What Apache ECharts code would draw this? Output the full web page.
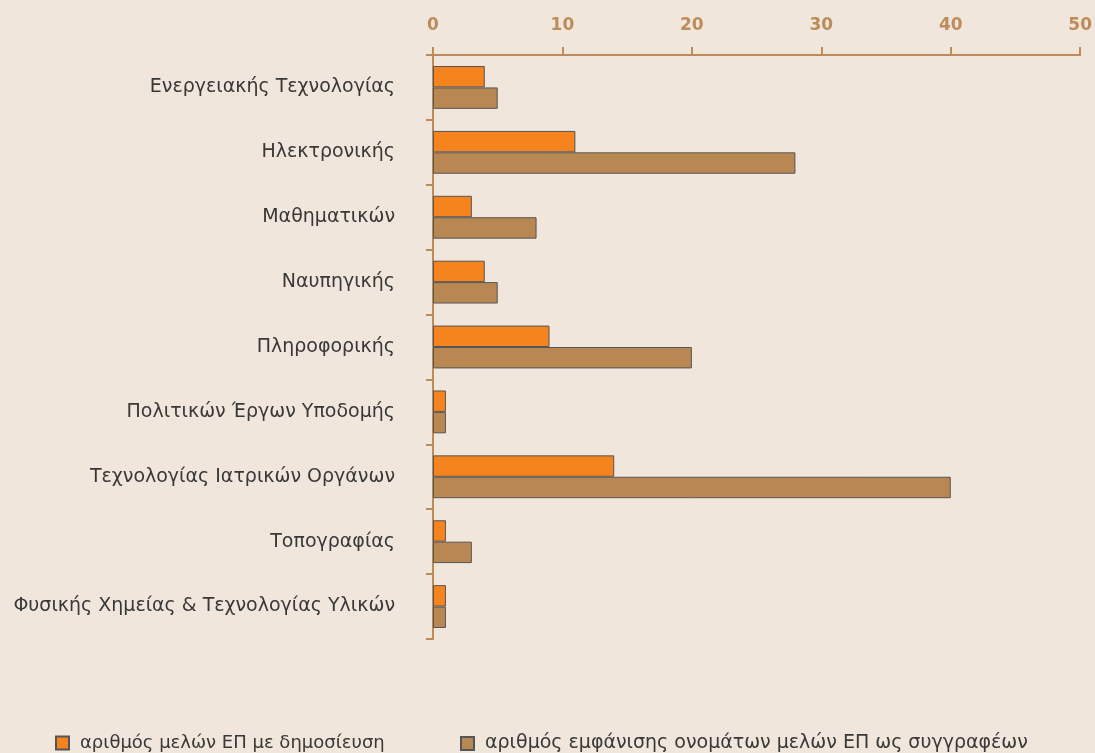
<!DOCTYPE html>
<html>
<head>
<meta charset="utf-8">
<script src="https://cdn.jsdelivr.net/npm/echarts@6/dist/echarts.min.js"></script>
<style>
  html, body { margin: 0; padding: 0; background: #F0E6DB; }
  #chart { width: 1095px; height: 753px; }
</style>
</head>
<body>
<div id="chart"></div>
<script>
(function(){

    let categories = [
        'Ενεργειακής Τεχνολογίας',
        'Ηλεκτρονικής',
        'Μαθηματικών',
        'Ναυπηγικής',
        'Πληροφορικής',
        'Πολιτικών Έργων Υποδομής',
        'Τεχνολογίας Ιατρικών Οργάνων',
        'Τοπογραφίας',
        'Φυσικής Χημείας & Τεχνολογίας Υλικών'
    ];
    let seriesNames = [
        'αριθμός μελών ΕΠ με δημοσίευση',
        'αριθμός εμφάνισης ονομάτων μελών ΕΠ ως συγγραφέων'
    ];
    let membersValues = [4, 11, 3, 4, 9, 1, 14, 1, 1];
    let authorsValues = [5, 28, 8, 5, 20, 1, 40, 3, 1];

    let axisColor = '#BD8C5A';
    let fontFamily = '"DejaVu Sans", Verdana, sans-serif';

    let _legend = function(name, left, size){
        return {
            data: [name],
            left: left,
            top: 729,
            itemWidth: 13,
            itemHeight: 13,
            icon: 'rect',
            textStyle: { color: '#383838', fontSize: size, fontFamily: fontFamily, padding: [0, 0, 0, 6] }
        };
    };

    let _barSeries = function(name, data, color){
        return {
            name: name,
            type: 'bar',
            data: data,
            barGap: '0%',
            barCategoryGap: '34%',
            itemStyle: {
                color: color,
                borderColor: '#555',
                borderWidth: 1
            }
        };
    };

    let chart = echarts.init(document.getElementById('chart'));
    chart.setOption({
        backgroundColor: '#F0E6DB',
        animation: false,
        legend: [
            _legend(seriesNames[0], 50, 18),
            _legend(seriesNames[1], 455, 19)
        ],
        grid: {
            left: 433,
            right: 12,
            top: 55,
            height: 584
        },
        xAxis: {
            type: 'value',
            position: 'top',
            min: 0,
            max: 50,
            interval: 10,
            splitLine: { show: false },
            axisLine: { show: true, lineStyle: { color: axisColor, width: 2 } },
            axisTick: { show: true, length: 8, lineStyle: { color: axisColor, width: 2 } },
            axisLabel: { color: axisColor, fontSize: 17, fontWeight: 'bold', fontFamily: fontFamily, margin: 21 }
        },
        yAxis: {
            type: 'category',
            data: categories,
            inverse: true,
            axisLine: { show: true, lineStyle: { color: axisColor, width: 2 } },
            axisTick: { show: true, length: 7, lineStyle: { color: axisColor, width: 2 } },
            axisLabel: { color: '#383838', fontSize: 19, fontFamily: fontFamily, margin: 38 }
        },
        series: [
            _barSeries(seriesNames[0], membersValues, '#F5841F'),
            _barSeries(seriesNames[1], authorsValues, '#B98752')
        ]
    });

})();
</script>
</body>
</html>
